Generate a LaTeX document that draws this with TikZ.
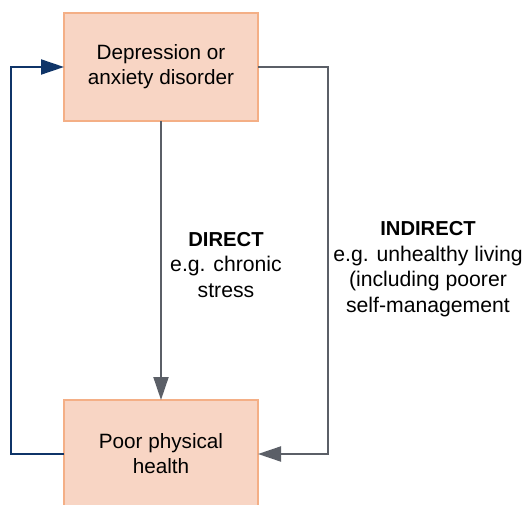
\documentclass[tikz,border=0pt]{standalone}
\usepackage{fontspec}
\setmainfont{Liberation Sans}
\usetikzlibrary{arrows.meta}
\definecolor{boxfill}{HTML}{F8D5C4}
\definecolor{boxline}{HTML}{F4AF86}
\definecolor{navy}{HTML}{0F3468}
\definecolor{slate}{HTML}{5B5F67}
\tikzset{
  box/.style={rectangle, draw=boxline, fill=boxfill, line width=1.5pt,
    minimum width=194pt, minimum height=108pt, outer sep=0pt, inner sep=0pt,
    align=center, font=\fontsize{20.7}{25}\selectfont},
  lbl/.style={align=center, inner sep=0pt, font=\fontsize{21.2}{25.5}\selectfont},
  conn/.style={line width=2pt, -{Triangle[length=23pt,width=15pt]}},
}
\newcommand{\hd}[1]{{\fontsize{20.2}{25.5}\selectfont\bfseries #1}}
\begin{document}
\begin{tikzpicture}[x=1pt,y=-1pt]
\useasboundingbox (0,0) rectangle (525,505);
\node[box] (top) at (161,67) {Depression or\\anxiety disorder};
\node[box] (bot) at (161,454) {Poor physical\\health};
\coordinate (lc) at (11,0);
\coordinate (rc) at (328,0);
\draw[conn, navy] (bot.west) -- (bot.west -| lc) |- (top.west);
\draw[conn, slate] (top.east) -- (top.east -| rc) |- (bot.east);
\draw[conn, slate] (top.south) -- (bot.north);
\node[lbl] (direct) at (226,265) {\hd{DIRECT}\\e.g. chronic\\stress};
\node[lbl] (indirect) at (428,269) {\hd{INDIRECT}\\e.g. unhealthy living\\(including poorer\\self-management};
\end{tikzpicture}
\end{document}
